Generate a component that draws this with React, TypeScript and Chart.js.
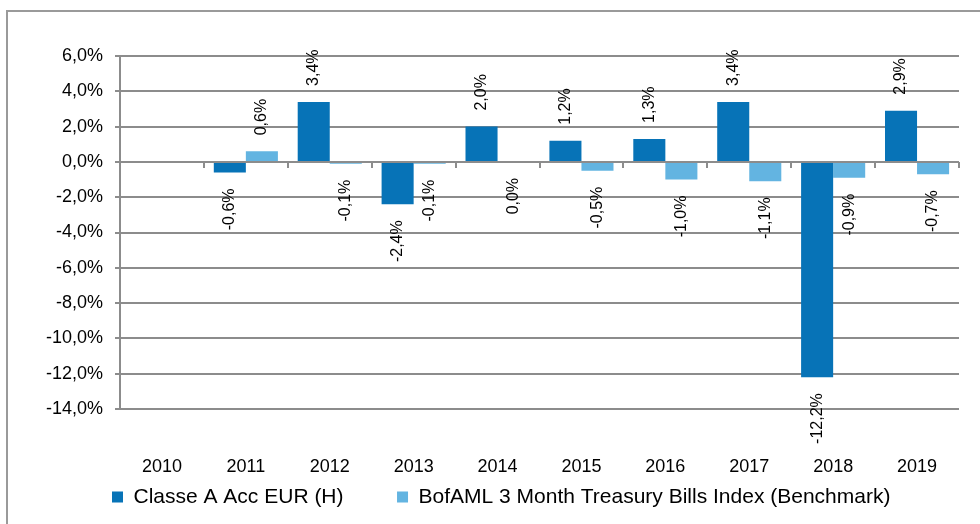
import React, { useEffect, useRef } from "react";
import { Chart, registerables } from "chart.js";

Chart.register(...registerables);

const categories = ["2010", "2011", "2012", "2013", "2014", "2015", "2016", "2017", "2018", "2019"];
const classeA: (number | null)[] = [null, -0.6, 3.4, -2.4, 2.0, 1.2, 1.3, 3.4, -12.2, 2.9];
const benchmark: (number | null)[] = [null, 0.6, -0.1, -0.1, 0.0, -0.5, -1.0, -1.1, -0.9, -0.7];
const seriesNames = ["Classe A Acc EUR (H)", "BofAML 3 Month Treasury Bills Index (Benchmark)"];
const yMin = -14;
const yMax = 6;
const yStep = 2;

const DARK = "#0773B7";
const LIGHT = "#63B4E1";
const GRID = "#8c8c8c";
const FONT = "'Liberation Sans', Arial, sans-serif";
const LEGEND_GAP = 53.5;

const fmt = (v: number) => v.toFixed(1).replace(".", ",") + "%";

const framePlugin = {
  id: "frame",
  beforeDraw(chart: any) {
    const ctx = chart.ctx;
    ctx.save();
    ctx.strokeStyle = "#9a9a9a";
    ctx.lineWidth = 2;
    ctx.beginPath();
    ctx.moveTo(7, chart.height + 5);
    ctx.lineTo(7, 11);
    ctx.lineTo(chart.width + 5, 11);
    ctx.stroke();
    ctx.restore();
  },
};

// Move the legend row so that the wide item gap does not push it down.
const legendPlacePlugin = {
  id: "legendPlace",
  afterLayout(chart: any) {
    const lg = chart.legend;
    if (!lg) return;
    lg.left = 112 - LEGEND_GAP;
    lg.top = 486.5 - LEGEND_GAP;
  },
};

const zeroTicksPlugin = {
  id: "zeroTicks",
  afterDatasetsDraw(chart: any) {
    const ctx = chart.ctx;
    const xs = chart.scales.x;
    const ys = chart.scales.y;
    const y0 = ys.getPixelForValue(0);
    ctx.save();
    ctx.strokeStyle = GRID;
    ctx.lineWidth = 2;
    ctx.beginPath();
    for (let i = 1; i <= categories.length; i++) {
      const px = Math.round(xs.getPixelForValue(i - 0.5));
      ctx.moveTo(px, y0);
      ctx.lineTo(px, y0 + 6);
    }
    ctx.stroke();
    ctx.restore();
  },
};

const labelsPlugin = {
  id: "barLabels",
  afterDatasetsDraw(chart: any) {
    const ctx = chart.ctx;
    ctx.save();
    ctx.font = `16px ${FONT}`;
    ctx.fillStyle = "#000";
    ctx.textBaseline = "middle";
    chart.data.datasets.forEach((ds: any, di: number) => {
      const meta = chart.getDatasetMeta(di);
      meta.data.forEach((el: any, i: number) => {
        const v = ds.data[i];
        if (v === null || v === undefined) return;
        const gap = 16;
        ctx.save();
        if (v > 0) {
          ctx.translate(el.x, el.y - gap);
          ctx.rotate(-Math.PI / 2);
          ctx.textAlign = "left";
        } else {
          ctx.translate(el.x, Math.max(el.y, el.base) + gap);
          ctx.rotate(-Math.PI / 2);
          ctx.textAlign = "right";
        }
        ctx.fillText(fmt(v), 0, 0);
        ctx.restore();
      });
    });
    ctx.restore();
  },
};

export default function App() {
  const ref = useRef<HTMLCanvasElement | null>(null);

  useEffect(() => {
    if (!ref.current) return;
    Chart.defaults.font.family = FONT;
    const chart = new Chart(ref.current, {
      type: "bar",
      data: {
        labels: categories,
        datasets: [
          {
            label: seriesNames[0],
            data: classeA,
            backgroundColor: DARK,
            borderWidth: 0,
            categoryPercentage: 0.764,
            barPercentage: 1,
          },
          {
            label: seriesNames[1],
            data: benchmark,
            backgroundColor: LIGHT,
            borderWidth: 0,
            categoryPercentage: 0.764,
            barPercentage: 1,
          },
        ],
      },
      options: {
        animation: false,
        responsive: false,
        maintainAspectRatio: false,
        devicePixelRatio: 1,
        layout: { padding: { left: 0, right: 21, top: 56, bottom: 0 } },
        plugins: {
          title: { display: false },
          tooltip: { enabled: false },
          legend: {
            display: true,
            position: "bottom",
            align: "start",
            maxHeight: 46,
            labels: {
              boxWidth: 11,
              boxHeight: 11,
              padding: LEGEND_GAP,
              color: "#000",
              font: { size: 21, family: FONT },
            },
          },
        },
        scales: {
          x: {
            type: "category",
            grid: { display: false },
            border: { display: false },
            ticks: {
              color: "#000",
              padding: 39,
              font: { size: 18, family: FONT },
              maxRotation: 0,
              autoSkip: false,
            },
            afterFit: (scale: any) => {
              scale.height = 69;
            },
          },
          y: {
            min: yMin,
            max: yMax,
            grid: { color: GRID, lineWidth: 2, tickLength: 5 },
            border: { display: true, color: GRID, width: 2 },
            ticks: {
              stepSize: yStep,
              color: "#000",
              padding: 12,
              font: { size: 18, family: FONT },
              callback: (v: any) => fmt(Number(v)),
            },
            afterFit: (scale: any) => {
              scale.width = 120;
            },
          },
        },
      },
      plugins: [framePlugin, legendPlacePlugin, zeroTicksPlugin, labelsPlugin],
    });
    return () => chart.destroy();
  }, []);

  return (
    <div style={{ position: "fixed", left: 0, top: 0, width: 980, height: 524, background: "#fff" }}>
      <canvas ref={ref} width={980} height={524} style={{ width: 980, height: 524, display: "block" }} />
    </div>
  );
}
